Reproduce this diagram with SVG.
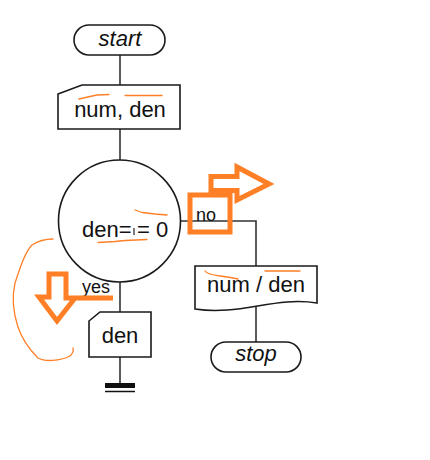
<svg xmlns="http://www.w3.org/2000/svg" width="430" height="460" viewBox="0 0 430 460">
<style>
.shape{fill:#fff;stroke:#1a1a1a;stroke-width:1.6}
.conn{fill:none;stroke:#333;stroke-width:1.6}
.t{font-family:"Liberation Sans",Arial,sans-serif;font-size:22px;fill:#111;text-anchor:middle}
.i{font-style:italic}
.lbl{font-family:"Liberation Sans",Arial,sans-serif;font-size:18px;fill:#111}
.hl{fill:none;stroke:#ff7f27;stroke-width:5;stroke-linejoin:miter}
.thin{fill:none;stroke:#ff7f27;stroke-width:1.3;stroke-linecap:round;stroke-linejoin:round}
</style>
<rect width="430" height="460" fill="#fff"/>
<g id="connectors">
<line class="conn" x1="120" y1="55" x2="120" y2="85"/>
<line class="conn" x1="120" y1="129" x2="120" y2="160"/>
<polyline class="conn" points="180,221 256,221 256,266"/>
<line class="conn" x1="256" y1="305" x2="256" y2="342"/>
<line class="conn" x1="120" y1="282" x2="120" y2="312"/>
<line class="conn" x1="120" y1="357" x2="120" y2="384"/>
<text class="lbl" x="196" y="221">no</text>
<text class="lbl" x="82" y="293">yes</text>
</g>
<g id="start">
<rect class="shape" x="74" y="25" width="91" height="30" rx="15"/>
<text class="t i" x="120" y="46">start</text>
</g>
<g id="input1">
<polygon class="shape" points="58,94 82,85 180,85 180,129 58,129"/>
<text class="t" x="120" y="117">num, den</text>
</g>
<g id="decision">
<circle class="shape" cx="119.5" cy="221" r="61"/>
<text class="t" y="237" style="text-anchor:start"><tspan x="82">den=</tspan><tspan x="137">= 0</tspan></text>
</g>
<g id="output">
<path class="shape" d="M195,266 H317 V303 C275,296 240,316 195,309 Z"/>
<text class="t" x="256" y="292">num / den</text>
</g>
<g id="stop">
<rect class="shape" x="211" y="342" width="90" height="30" rx="15"/>
<text class="t i" x="256" y="361">stop</text>
</g>
<g id="input2">
<polygon class="shape" points="89,321 100,312 151,312 151,357 89,357"/>
<text class="t" x="120" y="343">den</text>
</g>
<g id="ground">
<rect x="105" y="383" width="30" height="5" fill="#111"/>
<line x1="105" y1="391.5" x2="135" y2="391.5" stroke="#111" stroke-width="1.5"/>
</g>
<g id="annotations">
<rect class="hl" x="190" y="195" width="40" height="37"/>
<path class="hl" d="M211,195 V176.5 H237 V167 L269,184 L237,200 V190.5 H213"/>
<path class="hl" d="M113,298 H66 V274 H49 V297 H39 L57,321 L75,298 H66"/>
<path class="thin" d="M53,239 C45,239 38,241 32,245 C25,252 20,268 15,283 C12,296 13,312 18,327 C21,336 28,348 38,358 C45,362 60,361 70,356 C73,353 74,351 73,348"/>
<path class="thin" d="M79,99 L90,96.5 L97,95 L109,94.5"/>
<path class="thin" d="M125,95.5 H162"/>
<path class="thin" d="M135,210 L142,212.5 L155,214 L167,215"/>
<path class="thin" d="M98,242.5 L115,241.5 L125,240.5 L147,239.5"/>
<path class="thin" d="M205,271 C207,274 212,275 220,276 C228,277 234,278 238,279"/>
<path class="thin" d="M265,271 H300"/>
<line x1="134" y1="228" x2="134" y2="235" stroke="#222" stroke-width="1.2"/>
</g>
</svg>
